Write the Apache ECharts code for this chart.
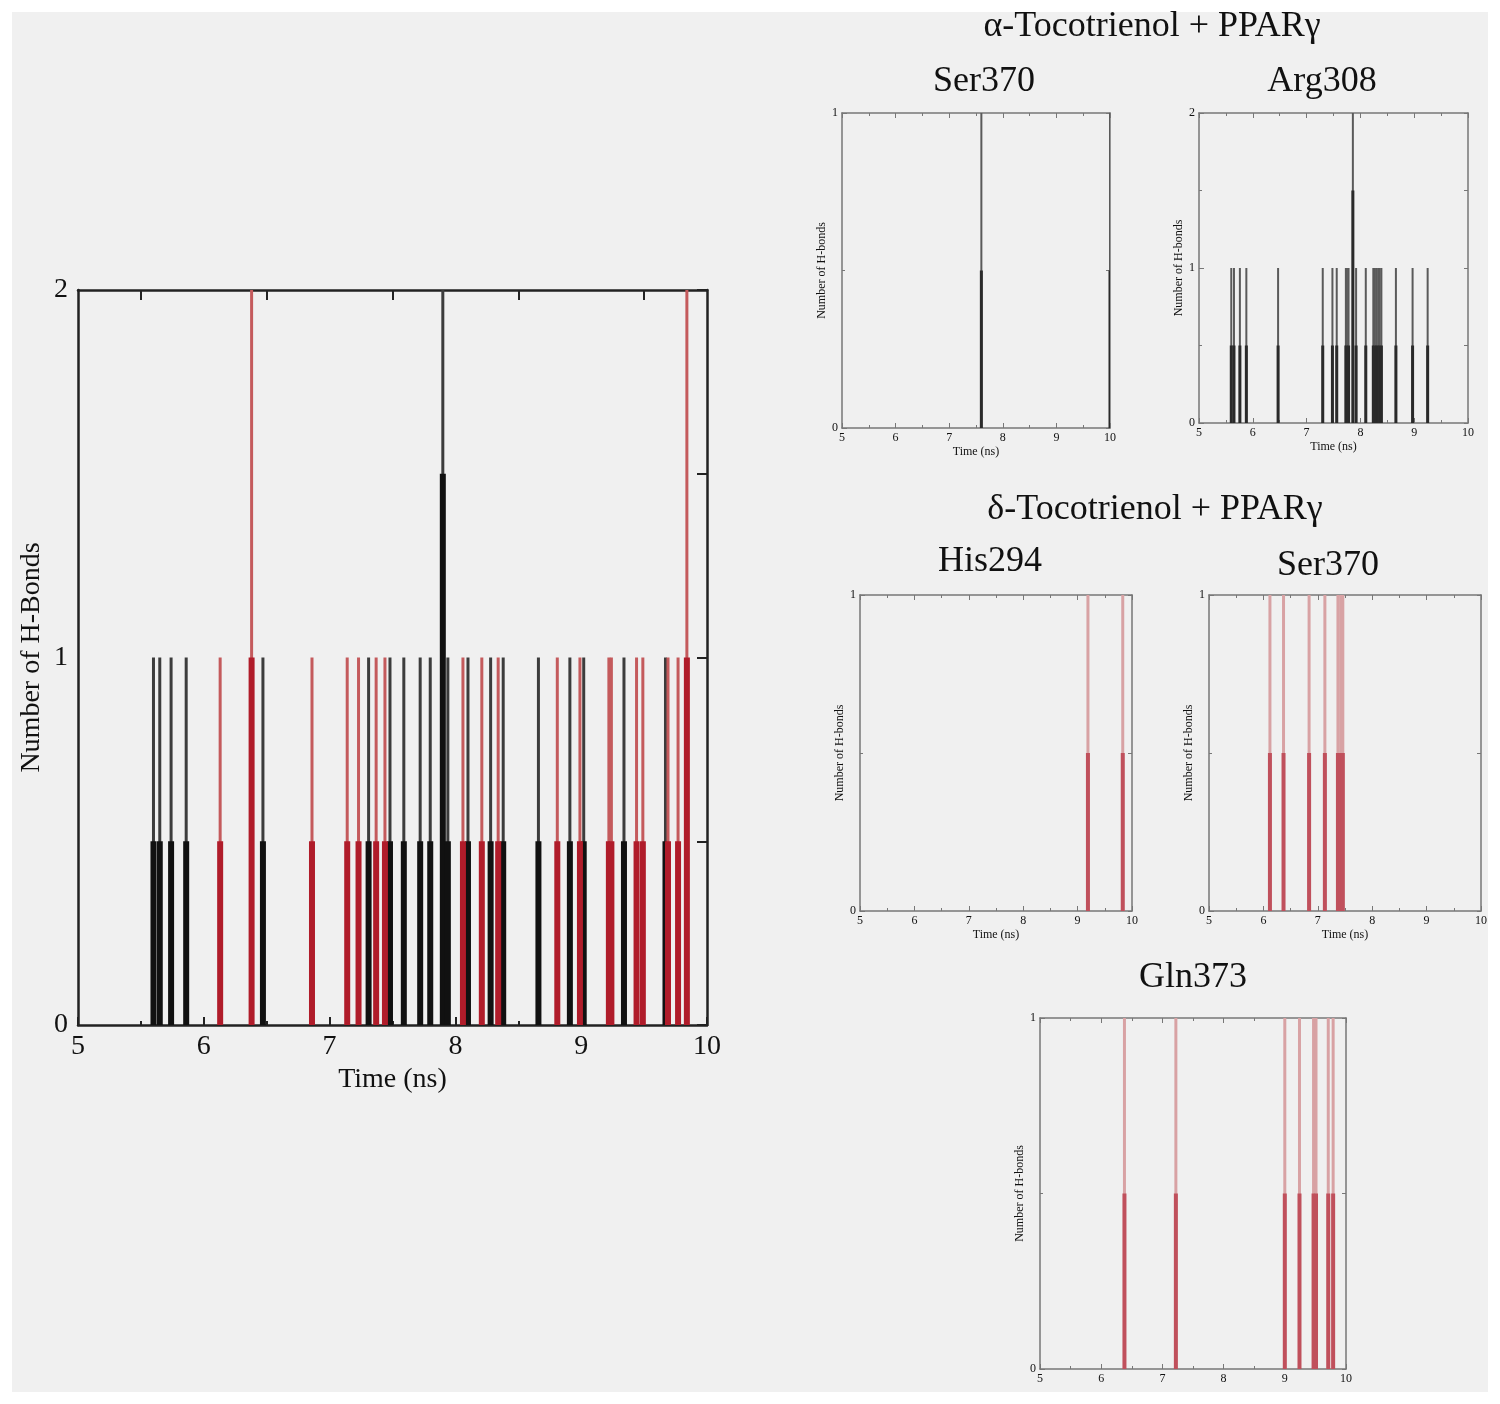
<!DOCTYPE html>
<html><head><meta charset="utf-8">
<script src="https://cdn.jsdelivr.net/npm/echarts@6/dist/echarts.min.js"></script>
<style>
html,body{margin:0;padding:0;background:#fff;}
#bg{position:absolute;left:12px;top:12px;width:1476px;height:1380px;background:#f0f0f0;}
#chart{position:absolute;left:0;top:0;width:1500px;height:1404px;}
</style></head><body>
<div id="bg"></div><div id="chart"></div>
<script>
// ---------- DATA ----------
const xTickLabels = [5, 6, 7, 8, 9, 10];

// Main overlay chart: black = alpha-tocotrienol, red = delta-tocotrienol
const mainBlackTimes     = [5.60, 5.65, 5.74, 5.86, 6.47, 7.31, 7.48, 7.59, 7.72, 7.80, 7.90, 7.94, 8.10, 8.28, 8.38, 8.66, 8.91, 9.02, 9.34, 9.67];
const mainBlackPeaks     = [1, 1, 1, 1, 1, 1, 1, 1, 1, 1, 2, 1, 1, 1, 1, 1, 1, 1, 1, 1];
const mainBlackShoulders = [0.5, 0.5, 0.5, 0.5, 0.5, 0.5, 0.5, 0.5, 0.5, 0.5, 1.5, 0.5, 0.5, 0.5, 0.5, 0.5, 0.5, 0.5, 0.5, 0.5];
const mainRedTimes       = [6.13, 6.38, 6.86, 7.14, 7.23, 7.37, 7.44, 8.06, 8.21, 8.34, 8.81, 8.99, 9.22, 9.24, 9.44, 9.49, 9.69, 9.77, 9.84];
const mainRedPeaks       = [1, 2, 1, 1, 1, 1, 1, 1, 1, 1, 1, 1, 1, 1, 1, 1, 1, 1, 2];
const mainRedShoulders   = [0.5, 1, 0.5, 0.5, 0.5, 0.5, 0.5, 0.5, 0.5, 0.5, 0.5, 0.5, 0.5, 0.5, 0.5, 0.5, 0.5, 0.5, 1];

// alpha-Tocotrienol + PPARgamma: Ser370
const aSer370Times     = [7.60, 10.0];
const aSer370Peaks     = [1, 1];
const aSer370Shoulders = [0.5, 0.5];
// alpha-Tocotrienol + PPARgamma: Arg308
const aArg308Times     = [5.60, 5.65, 5.76, 5.88, 6.47, 7.30, 7.48, 7.56, 7.73, 7.75, 7.78, 7.86, 7.92, 8.10, 8.24, 8.27, 8.30, 8.33, 8.36, 8.39, 8.66, 8.97, 9.25];
const aArg308Peaks     = [1, 1, 1, 1, 1, 1, 1, 1, 1, 1, 1, 2, 1, 1, 1, 1, 1, 1, 1, 1, 1, 1, 1];
const aArg308Shoulders = [0.5, 0.5, 0.5, 0.5, 0.5, 0.5, 0.5, 0.5, 0.5, 0.5, 0.5, 1.5, 0.5, 0.5, 0.5, 0.5, 0.5, 0.5, 0.5, 0.5, 0.5, 0.5, 0.5];
// delta-Tocotrienol + PPARgamma: His294
const dHis294Times     = [9.19, 9.83];
const dHis294Peaks     = [1, 1];
const dHis294Shoulders = [0.5, 0.5];
// delta-Tocotrienol + PPARgamma: Ser370
const dSer370Times     = [6.12, 6.37, 6.84, 7.13, 7.37, 7.42, 7.46];
const dSer370Peaks     = [1, 1, 1, 1, 1, 1, 1];
const dSer370Shoulders = [0.5, 0.5, 0.5, 0.5, 0.5, 0.5, 0.5];
// delta-Tocotrienol + PPARgamma: Gln373
const dGln373Times     = [6.38, 7.22, 9.00, 9.24, 9.47, 9.51, 9.71, 9.79];
const dGln373Peaks     = [1, 1, 1, 1, 1, 1, 1, 1];
const dGln373Shoulders = [0.5, 0.5, 0.5, 0.5, 0.5, 0.5, 0.5, 0.5];

const titleTexts = ['α-Tocotrienol + PPARγ', 'Ser370', 'Arg308', 'δ-Tocotrienol + PPARγ', 'His294', 'Ser370', 'Gln373'];
const xAxisName = 'Time (ns)';
const mainYName = 'Number of H-Bonds';
const smallYName = 'Number of H-bonds';

// ---------- BUILD ----------
const FONT = '"Liberation Serif", "Times New Roman", serif';
const grids = [], xAxes = [], yAxes = [], series = [];

function zip3(t, p, s) { return t.map((v, i) => [v, p[i], s[i]]); }

function spikeRender(thinW, thickW, thinColor, thickColor) {
  return function (params, api) {
    const t = api.value(0);
    const p0 = api.coord([t, 0]);
    const p1 = api.coord([t, api.value(1)]);
    const p2 = api.coord([t, api.value(2)]);
    return {
      type: 'group',
      children: [
        { type: 'rect', shape: { x: p0[0] - thinW / 2, y: p1[1], width: thinW, height: p0[1] - p1[1] }, style: { fill: thinColor } },
        { type: 'rect', shape: { x: p0[0] - thickW / 2, y: p2[1], width: thickW, height: p0[1] - p2[1] }, style: { fill: thickColor } }
      ]
    };
  };
}

function addPanel(p) {
  const gi = grids.length;
  grids.push({ left: p.left, top: p.top, width: p.width, height: p.height, containLabel: false });
  const ls = { color: p.axisColor, width: p.axisWidth };
  const ts = { color: p.axisColor, width: p.tickWidth };
  const xi = xAxes.length, yi = yAxes.length;
  xAxes.push({
    gridIndex: gi, type: 'value', min: 5, max: 10, interval: 1, position: 'bottom',
    axisLine: { show: true, onZero: false, lineStyle: ls },
    axisTick: { show: true, inside: true, length: p.major, lineStyle: ts },
    minorTick: { show: true, splitNumber: 2, length: p.minor, lineStyle: ts },
    axisLabel: { show: true, margin: p.xLabelMargin, fontFamily: FONT, fontSize: p.labelSize, color: '#111',
      formatter: v => (xTickLabels.indexOf(v) >= 0 ? String(v) : '') },
    splitLine: { show: false }, minorSplitLine: { show: false },
    name: p.xName || '', nameLocation: 'middle', nameGap: p.xNameGap,
    nameTextStyle: { fontFamily: FONT, fontSize: p.nameSize, color: '#111' }
  });
  const topAxis = {
    gridIndex: gi, type: 'value', min: 5, max: 10, interval: 1, position: 'top',
    axisLine: { show: true, onZero: false, lineStyle: ls },
    axisTick: { show: true, inside: true, length: p.topMajor || p.major, lineStyle: ts },
    minorTick: { show: !p.topCustom, splitNumber: 2, length: p.minor, lineStyle: ts },
    axisLabel: { show: false }, splitLine: { show: false }
  };
  if (p.topCustom) topAxis.axisTick.customValues = p.topCustom;
  xAxes.push(topAxis);
  yAxes.push({
    gridIndex: gi, type: 'value', min: 0, max: p.ymax, interval: 1, position: 'left',
    axisLine: { show: true, onZero: false, lineStyle: ls },
    axisTick: { show: p.leftTicks, inside: true, length: p.major, lineStyle: ts },
    minorTick: { show: p.leftTicks, splitNumber: 2, length: p.minor, lineStyle: ts },
    axisLabel: { show: true, margin: p.yLabelMargin, fontFamily: FONT, fontSize: p.labelSize, color: '#111' },
    splitLine: { show: false }, minorSplitLine: { show: false },
    name: p.yName, nameLocation: 'middle', nameGap: p.yNameGap,
    nameTextStyle: { fontFamily: FONT, fontSize: p.nameSize, color: '#111' }
  });
  yAxes.push({
    gridIndex: gi, type: 'value', min: 0, max: p.ymax, interval: p.rightInterval, position: 'right',
    axisLine: { show: true, onZero: false, lineStyle: ls },
    axisTick: { show: true, inside: true, length: p.rightTick, lineStyle: ts },
    minorTick: { show: false },
    axisLabel: { show: false }, splitLine: { show: false }
  });
  p.sets.forEach(s => {
    series.push({
      type: 'custom', xAxisIndex: xi, yAxisIndex: yi, clip: true,
      renderItem: spikeRender(s.thin, s.thick, s.thinColor, s.thickColor),
      encode: { x: 0, y: 1 },
      data: s.data, z: 1
    });
  });
}

const small = {
  axisColor: '#777', axisWidth: 1.5, tickWidth: 1, major: 5, minor: 3, labelSize: 12, nameSize: 12,
  xLabelMargin: 4, yLabelMargin: 4, xNameGap: 18, yNameGap: 12, xName: xAxisName, yName: smallYName,
  leftTicks: true, rightInterval: 0.5, rightTick: 4
};
const blackSmall = { thin: 2, thick: 3, thinColor: '#5a5a5a', thickColor: '#2a2a2a' };
const redSmall = { thin: 3, thick: 4, thinColor: '#d8a2a4', thickColor: '#c0505c' };

// Main chart
addPanel({
  left: 78, top: 290, width: 629, height: 735, ymax: 2,
  axisColor: '#222', axisWidth: 2.5, tickWidth: 2, major: 8, minor: 4, labelSize: 28, nameSize: 28,
  xLabelMargin: 8, yLabelMargin: 10, xNameGap: 40, yNameGap: 32, xName: xAxisName, yName: mainYName,
  leftTicks: false, rightInterval: 0.5, rightTick: 10, topCustom: [5.5, 6.5, 7.5, 8.5, 9.5], topMajor: 10,
  sets: [
    { data: zip3(mainBlackTimes, mainBlackPeaks, mainBlackShoulders), thin: 3, thick: 6, thinColor: '#3c3c3c', thickColor: '#111111' },
    { data: zip3(mainRedTimes, mainRedPeaks, mainRedShoulders), thin: 3, thick: 6, thinColor: '#c45a5c', thickColor: '#b01c2a' }
  ]
});
// alpha Ser370
addPanel(Object.assign({}, small, { left: 842, top: 113, width: 268, height: 315, ymax: 1,
  sets: [Object.assign({ data: zip3(aSer370Times, aSer370Peaks, aSer370Shoulders) }, blackSmall)] }));
// alpha Arg308
addPanel(Object.assign({}, small, { left: 1199, top: 113, width: 269, height: 310, ymax: 2,
  sets: [Object.assign({ data: zip3(aArg308Times, aArg308Peaks, aArg308Shoulders) }, blackSmall)] }));
// delta His294
addPanel(Object.assign({}, small, { left: 860, top: 595, width: 272, height: 316, ymax: 1,
  sets: [Object.assign({ data: zip3(dHis294Times, dHis294Peaks, dHis294Shoulders) }, redSmall)] }));
// delta Ser370
addPanel(Object.assign({}, small, { left: 1209, top: 595, width: 272, height: 316, ymax: 1,
  sets: [Object.assign({ data: zip3(dSer370Times, dSer370Peaks, dSer370Shoulders) }, redSmall)] }));
// delta Gln373
addPanel(Object.assign({}, small, { left: 1040, top: 1018, width: 306, height: 351, ymax: 1, xName: '',
  sets: [Object.assign({ data: zip3(dGln373Times, dGln373Peaks, dGln373Shoulders) }, redSmall)] }));

const titlePos = [[1152, 27], [984, 82], [1322, 82], [1155, 510], [990, 562], [1328, 566], [1193, 978]];
const titles = titleTexts.map((t, i) => ({
  text: t, left: titlePos[i][0], top: titlePos[i][1], textAlign: 'center', textVerticalAlign: 'middle', padding: 0,
  textStyle: { fontFamily: FONT, fontSize: 36, fontWeight: 'normal', color: '#111' }
}));

const chart = echarts.init(document.getElementById('chart'), null, { renderer: 'canvas' });
chart.setOption({
  backgroundColor: 'transparent',
  animation: false,
  title: titles,
  grid: grids,
  xAxis: xAxes,
  yAxis: yAxes,
  series: series
});
</script></body></html>
